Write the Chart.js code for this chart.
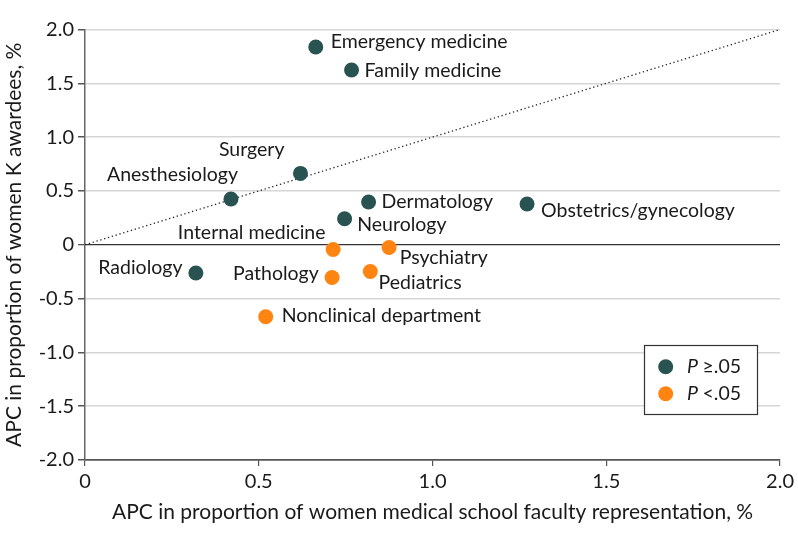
<!DOCTYPE html>
<html>
<head>
<meta charset="utf-8">
<script src="https://cdn.jsdelivr.net/npm/chart.js@4.4.1/dist/chart.umd.min.js"></script>
<style>
  html, body { margin: 0; padding: 0; background: #fff; }
  #wrap { width: 798px; height: 545px; }
</style>
</head>
<body>
<div id="wrap"><canvas id="apcChart" width="798" height="545"></canvas></div>
<script>
// ── DATA ───────────────────────────────────────────────────────
const departments = [
  'Emergency medicine', 'Family medicine', 'Surgery', 'Anesthesiology',
  'Dermatology', 'Neurology', 'Obstetrics/gynecology', 'Radiology',
  'Internal medicine', 'Psychiatry', 'Pathology', 'Pediatrics', 'Nonclinical department'
];
const facultyApc = [0.664, 0.767, 0.620, 0.420, 0.816, 0.747, 1.272, 0.319, 0.714, 0.875, 0.711, 0.821, 0.520];
const awardeeApc = [1.837, 1.624, 0.663, 0.425, 0.397, 0.242, 0.378, -0.263, -0.044, -0.025, -0.304, -0.248, -0.669];
const significant = [false, false, false, false, false, false, false, false, true, true, true, true, true];
const xTicks = [0, 0.5, 1.0, 1.5, 2.0];
const yTicks = [-2.0, -1.5, -1.0, -0.5, 0, 0.5, 1.0, 1.5, 2.0];
const groupLabels = ['≥.05', '<.05'];

// label placement relative to the point: [dx, dy, align]
const labelPlace = [
  [15, -5, 'left'], [13, 1, 'left'], [-16, -24, 'right'], [7, -24, 'right'],
  [13, 0, 'left'], [12.6, 6, 'left'], [14, 6.7, 'left'], [-13.4, -5, 'right'],
  [-7.6, -16.7, 'right'], [10.7, 10.7, 'left'], [-13.3, -3.4, 'right'], [8.3, 11, 'left'],
  [16, -1, 'left']
];

const TEAL = '#285351';
const ORANGE = '#ff8412';
const FONT = 'Lato, "Open Sans", sans-serif';
const LABEL_SIZE = 19.5;

function pointsFor(sig) {
  const pts = [];
  departments.forEach((d, i) => {
    if (significant[i] === sig) pts.push({ x: facultyApc[i], y: awardeeApc[i], name: d, idx: i });
  });
  return pts;
}

// ── PLUGINS ────────────────────────────────────────────────────
const pointLabels = {
  id: 'pointLabels',
  afterDatasetsDraw(chart) {
    const ctx = chart.ctx;
    ctx.save();
    ctx.font = LABEL_SIZE + 'px ' + FONT;
    ctx.fillStyle = '#1a1a1a';
    ctx.textBaseline = 'middle';
    [1, 2].forEach(di => {
      const meta = chart.getDatasetMeta(di);
      chart.data.datasets[di].data.forEach((p, j) => {
        const el = meta.data[j];
        const [dx, dy, align] = labelPlace[p.idx];
        ctx.textAlign = align;
        ctx.fillText(p.name, el.x + dx, el.y + dy);
      });
    });
    ctx.restore();
  }
};

const boxLegend = {
  id: 'boxLegend',
  afterDraw(chart) {
    const ctx = chart.ctx;
    const x0 = 644.5, y0 = 345.5, w = 113, h = 69;
    ctx.save();
    ctx.fillStyle = '#fff';
    ctx.fillRect(x0, y0, w, h);
    ctx.strokeStyle = '#333';
    ctx.lineWidth = 1.2;
    ctx.strokeRect(x0, y0, w, h);
    [[TEAL, groupLabels[0], 366.7], [ORANGE, groupLabels[1], 393.7]].forEach(([col, txt, yy]) => {
      ctx.fillStyle = col;
      ctx.beginPath();
      ctx.arc(665.7, yy, 7.5, 0, Math.PI * 2);
      ctx.fill();
      ctx.fillStyle = '#1a1a1a';
      ctx.textBaseline = 'middle';
      ctx.textAlign = 'left';
      ctx.font = 'italic ' + LABEL_SIZE + 'px ' + FONT;
      ctx.fillText('P', 687, yy);
      const pw = ctx.measureText('P ').width;
      ctx.font = LABEL_SIZE + 'px ' + FONT;
      ctx.fillText(txt, 687 + pw, yy);
    });
    ctx.restore();
  }
};

// ── CHART ──────────────────────────────────────────────────────
const ctx = document.getElementById('apcChart').getContext('2d');
new Chart(ctx, {
  type: 'scatter',
  data: {
    datasets: [
      { type: 'line', label: 'Equality', data: [{ x: 0, y: 0 }, { x: 2, y: 2 }],
        borderColor: '#222', borderWidth: 1.3, borderDash: [1.3, 2.7], pointRadius: 0, fill: false, order: 3 },
      { label: 'P ≥.05', data: pointsFor(false), backgroundColor: TEAL, borderWidth: 0, pointRadius: 7.5, order: 2 },
      { label: 'P <.05', data: pointsFor(true), backgroundColor: ORANGE, borderWidth: 0, pointRadius: 7.5, order: 1 }
    ]
  },
  options: {
    responsive: false,
    animation: false,
    layout: { padding: { top: 29.5, right: 15, left: 0, bottom: 0 } },
    plugins: { legend: { display: false }, tooltip: { enabled: false } },
    scales: {
      x: {
        type: 'linear', min: 0, max: 2,
        afterBuildTicks: s => { s.ticks = xTicks.map(v => ({ value: v })); },
        afterFit: s => { s.height = 85; },
        grid: { drawOnChartArea: false, tickLength: 6, tickColor: '#555', lineWidth: 1.2 },
        border: { color: '#555', width: 1.5 },
        ticks: { color: '#1a1a1a', font: { family: FONT, size: 20 }, padding: 4,
                 callback: v => v === 0 ? '0' : v.toFixed(1) },
        title: { display: true, text: 'APC in proportion of women medical school faculty representation, %',
                 color: '#1a1a1a', font: { family: FONT, size: 21 }, padding: { bottom: 20 } }
      },
      y: {
        type: 'linear', min: -2, max: 2,
        afterBuildTicks: s => { s.ticks = yTicks.map(v => ({ value: v })); },
        afterFit: s => { s.width = 85; },
        grid: {
          color: c => c.tick && c.tick.value === 0 ? '#333' : (c.tick && c.tick.value === -2 ? '#555' : '#d6d6d6'),
          lineWidth: c => c.tick && c.tick.value === 0 ? 1.3 : 1.5,
          tickLength: 7, tickColor: '#555'
        },
        border: { color: '#666', width: 1.5 },
        ticks: { color: '#1a1a1a', font: { family: FONT, size: 20 }, padding: 4,
                 callback: v => v === 0 ? '0' : v.toFixed(1) },
        title: { display: true, text: 'APC in proportion of women K awardees, %',
                 color: '#1a1a1a', font: { family: FONT, size: 21 }, padding: { top: 2 } }
      }
    }
  },
  plugins: [pointLabels, boxLegend]
});
</script>
</body>
</html>
